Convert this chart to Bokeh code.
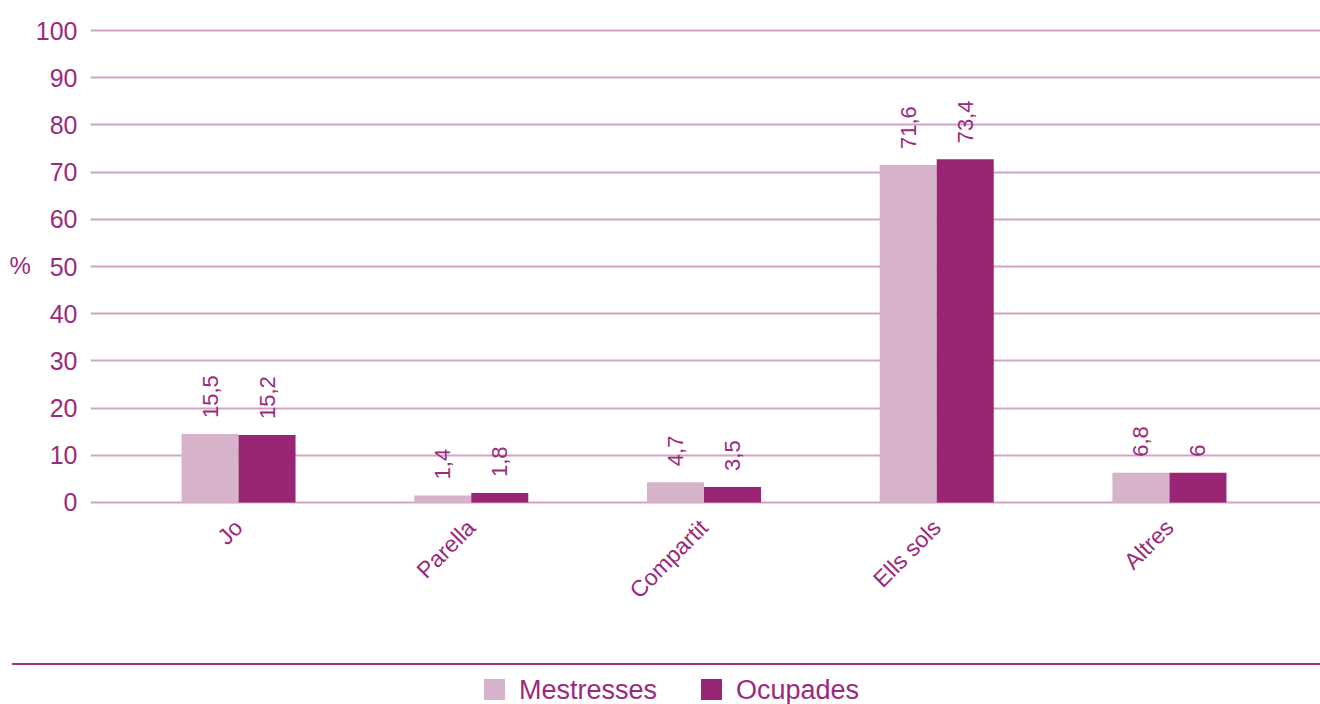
from math import pi
from bokeh.plotting import figure
from bokeh.models import ColumnDataSource, Range1d, FixedTicker, Div
from bokeh.transform import dodge
from bokeh.layouts import column
from bokeh.core.properties import value
from bokeh.embed import file_html
from bokeh.resources import INLINE

categories = ["Jo", "Parella", "Compartit", "Ells sols", "Altres"]
mestresses = [14.5, 1.5, 4.3, 71.5, 6.3]
ocupades = [14.3, 2.0, 3.3, 72.7, 6.3]
labels_mestresses = ["15,5", "1,4", "4,7", "71,6", "6,8"]
labels_ocupades = ["15,2", "1,8", "3,5", "73,4", "6"]
series_names = ["Mestresses", "Ocupades"]
y_ticks = list(range(0, 101, 10))

FONT = "Liberation Sans"
TXT = "#9b2a7c"
C_LIGHT = "#d7b3cb"
C_DARK = "#9a2574"
GRID = "#d2a3c4"
SEP = "#a03582"

src = ColumnDataSource(dict(
    x=list(range(len(categories))), m=mestresses, o=ocupades,
    lm=labels_mestresses, lo=labels_ocupades))

p = figure(width=1320, height=640, output_backend="svg", toolbar_location=None,
           x_range=Range1d(-0.636, 4.649), y_range=Range1d(-0.636, 101.06),
           min_border_left=90, min_border_right=0, min_border_top=25, min_border_bottom=135)
p.outline_line_color = None
p.background_fill_color = "white"
p.border_fill_color = "white"

p.vbar(x=dodge("x", -0.1225, range=p.x_range), top="m", width=0.245, bottom=0,
       source=src, fill_color=C_LIGHT, line_color=None)
p.vbar(x=dodge("x", 0.1225, range=p.x_range), top="o", width=0.245, bottom=0,
       source=src, fill_color=C_DARK, line_color=None)

for col, lab, off in (("m", "lm", -0.1225), ("o", "lo", 0.1225)):
    p.text(x=dodge("x", off, range=p.x_range), y=col, text=lab, source=src,
           angle=pi / 2, text_align="left", text_baseline="middle", y_offset=-16,
           text_font=value(FONT), text_font_size="22px", text_color=TXT)

p.xgrid.visible = False
p.ygrid.ticker = FixedTicker(ticks=y_ticks)
p.ygrid.grid_line_color = GRID
p.ygrid.grid_line_width = 2

p.yaxis.ticker = FixedTicker(ticks=y_ticks)
p.yaxis.axis_line_color = None
p.yaxis.major_tick_line_color = None
p.yaxis.minor_tick_line_color = None
p.yaxis.major_label_standoff = 7
p.yaxis.major_label_text_font = FONT
p.yaxis.major_label_text_font_size = "25px"
p.yaxis.major_label_text_color = TXT
p.yaxis.axis_label = "%"
p.yaxis.axis_label_text_font = FONT
p.yaxis.axis_label_text_font_size = "24px"
p.yaxis.axis_label_text_font_style = "normal"
p.yaxis.axis_label_text_color = TXT
p.yaxis.axis_label_standoff = 2
try:
    p.yaxis.axis_label_orientation = "horizontal"
except Exception:
    pass

p.xaxis.ticker = FixedTicker(ticks=list(range(len(categories))))
p.xaxis.major_label_overrides = {i: c for i, c in enumerate(categories)}
p.xaxis.major_label_orientation = pi / 4
p.xaxis.axis_line_color = None
p.xaxis.major_tick_line_color = None
p.xaxis.minor_tick_line_color = None
p.xaxis.major_label_standoff = 12
p.xaxis.major_label_text_font = FONT
p.xaxis.major_label_text_font_size = "23px"
p.xaxis.major_label_text_color = TXT

# legend strip below the chart
legend_html = f"""
<div style="position:relative;width:1320px;height:64px;margin:0;padding:0;
font-family:'{FONT}',sans-serif;color:{TXT};">
  <div style="position:absolute;left:12px;top:23px;width:1308px;height:0;
  border-top:2.5px solid {SEP};"></div>
  <div style="position:absolute;left:484px;top:39px;width:21px;height:21px;background:{C_LIGHT};"></div>
  <div style="position:absolute;left:519px;top:40px;height:21px;line-height:21px;
  font-size:27px;white-space:nowrap;">{series_names[0]}</div>
  <div style="position:absolute;left:701px;top:39px;width:21px;height:21px;background:{C_DARK};"></div>
  <div style="position:absolute;left:736px;top:40px;height:21px;line-height:21px;
  font-size:27px;white-space:nowrap;">{series_names[1]}</div>
</div>
"""
legend_div = Div(text=legend_html, width=1320, height=64, margin=0)

layout = column(p, legend_div, spacing=0)
open("out.html", "w").write(file_html(layout, INLINE))
